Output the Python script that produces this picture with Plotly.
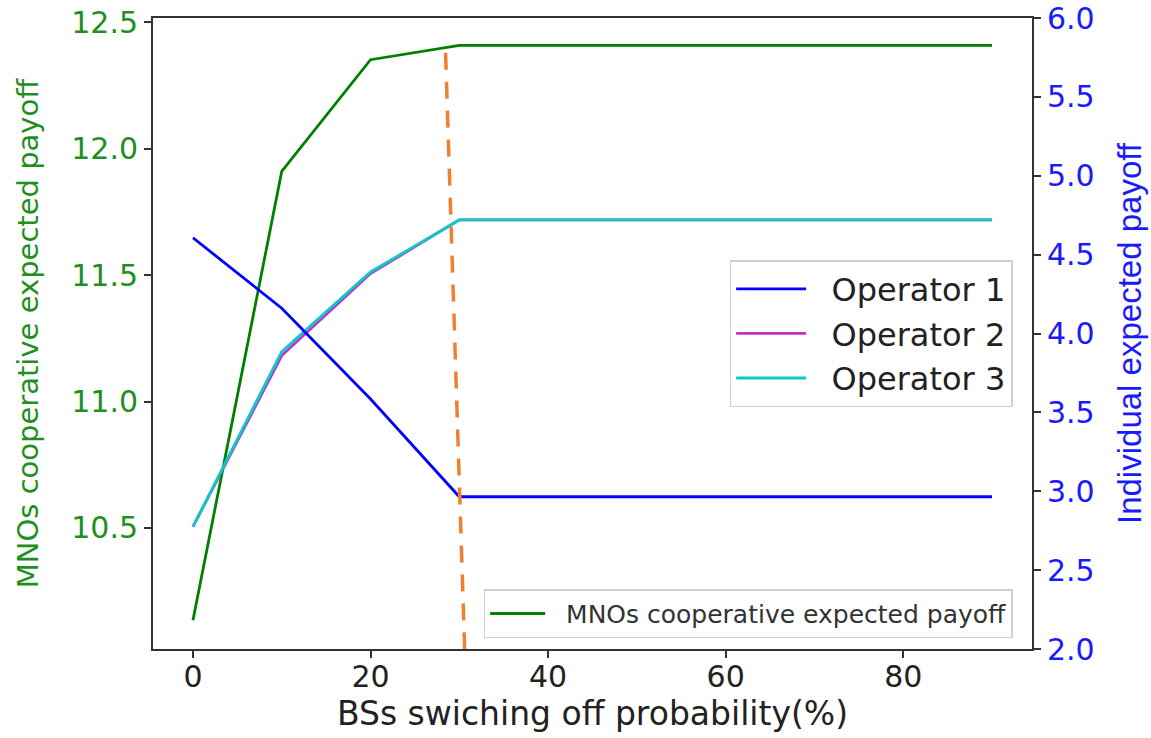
import plotly.graph_objects as go

# ---- data ----
prob = [0, 10, 20, 30, 40, 50, 60, 70, 80, 90]
coop_payoff = [10.135, 11.91, 12.352, 12.409, 12.409, 12.409, 12.409, 12.409, 12.409, 12.409]
op1 = [4.607, 4.16, 3.585, 2.965, 2.965, 2.965, 2.965, 2.965, 2.965, 2.965]
op2 = [2.775, 3.86, 4.38, 4.72, 4.72, 4.72, 4.72, 4.72, 4.72, 4.72]
op3 = [2.775, 3.885, 4.39, 4.72, 4.72, 4.72, 4.72, 4.72, 4.72, 4.72]
opt_x = [28.45, 30.6]
opt_y = [5.78, 2.0]

x_ticks = [0, 20, 40, 60, 80]
left_ticks = [10.5, 11.0, 11.5, 12.0, 12.5]
right_ticks = [2.0, 2.5, 3.0, 3.5, 4.0, 4.5, 5.0, 5.5, 6.0]

FONT = "DejaVu Sans"
GREEN_TXT = "#1f8f1f"
BLUE_TXT = "#1a1aff"
PAD = "\u00a0\u00a0"

fig = go.Figure()

fig.add_trace(go.Scatter(x=prob, y=coop_payoff, mode="lines", name=PAD + "MNOs cooperative expected payoff",
                         line=dict(color="#008000", width=2.8), legend="legend2", yaxis="y"))
fig.add_trace(go.Scatter(x=prob, y=op2, mode="lines", name=PAD + "Operator 2",
                         line=dict(color="#c030c8", width=2.8), legend="legend", legendrank=2, yaxis="y2"))
fig.add_trace(go.Scatter(x=prob, y=op3, mode="lines", name=PAD + "Operator 3",
                         line=dict(color="#10c8c8", width=2.8), legend="legend", legendrank=3, yaxis="y2"))
fig.add_trace(go.Scatter(x=prob, y=op1, mode="lines", name=PAD + "Operator 1",
                         line=dict(color="#0000ff", width=2.8), legend="legend", legendrank=1, yaxis="y2"))
fig.add_trace(go.Scatter(x=opt_x, y=opt_y, mode="lines", showlegend=False,
                         line=dict(color="#f08030", width=3.5, dash="17px,12px"), yaxis="y2"))

fig.update_layout(
    width=1151, height=738,
    margin=dict(l=153, r=119, t=18, b=89, autoexpand=False),
    paper_bgcolor="white", plot_bgcolor="white",
    font=dict(family=FONT, color="#222222"),
    xaxis=dict(range=[-4.5, 94.5], tickvals=x_ticks, showgrid=False, zeroline=False,
               showline=True, linecolor="#333333", linewidth=2, mirror=True, automargin=False,
               ticks="outside", ticklen=7, tickwidth=1.5, tickcolor="#333333", ticklabelstandoff=-7,
               tickfont=dict(size=30, color="#222222", family=FONT),
               title=dict(text="BSs swiching off probability(%)", font=dict(size=33, color="#222222", family=FONT),
                          standoff=6)),
    yaxis=dict(range=[10.021, 12.517], tickvals=left_ticks, tickformat=".1f", showgrid=False, zeroline=False,
               showline=True, linecolor="#333333", linewidth=2, automargin=False,
               ticks="outside", ticklen=7, tickwidth=1.5, tickcolor="#333333",
               tickfont=dict(size=30, color=GREEN_TXT, family=FONT),
               title=dict(text="MNOs cooperative expected payoff", font=dict(size=29, color=GREEN_TXT, family=FONT),
                          standoff=24)),
    yaxis2=dict(range=[2.0, 6.0], tickvals=right_ticks, tickformat=".1f", overlaying="y", side="right",
                showgrid=False, zeroline=False, showline=True, linecolor="#333333", linewidth=2, automargin=False,
                ticks="outside", ticklen=7, tickwidth=1.5, tickcolor="#333333",
                tickfont=dict(size=30, color=BLUE_TXT, family=FONT),
                title=dict(text="Individual expected payoff", font=dict(size=33, color=BLUE_TXT, family="Liberation Sans"),
                           standoff=24)),
    legend=dict(x=0.978, xanchor="right", y=0.5, yanchor="middle",
                bgcolor="white", bordercolor="#d0d0d0", borderwidth=1.5,
                font=dict(size=32, color="#222222", family=FONT), itemwidth=70),
    legend2=dict(x=0.978, xanchor="right", y=0.017, yanchor="bottom",
                 bgcolor="white", bordercolor="#d0d0d0", borderwidth=1.5,
                 font=dict(size=25, color="#333333", family=FONT), itemwidth=55),
)

fig.write_html("out.html")
